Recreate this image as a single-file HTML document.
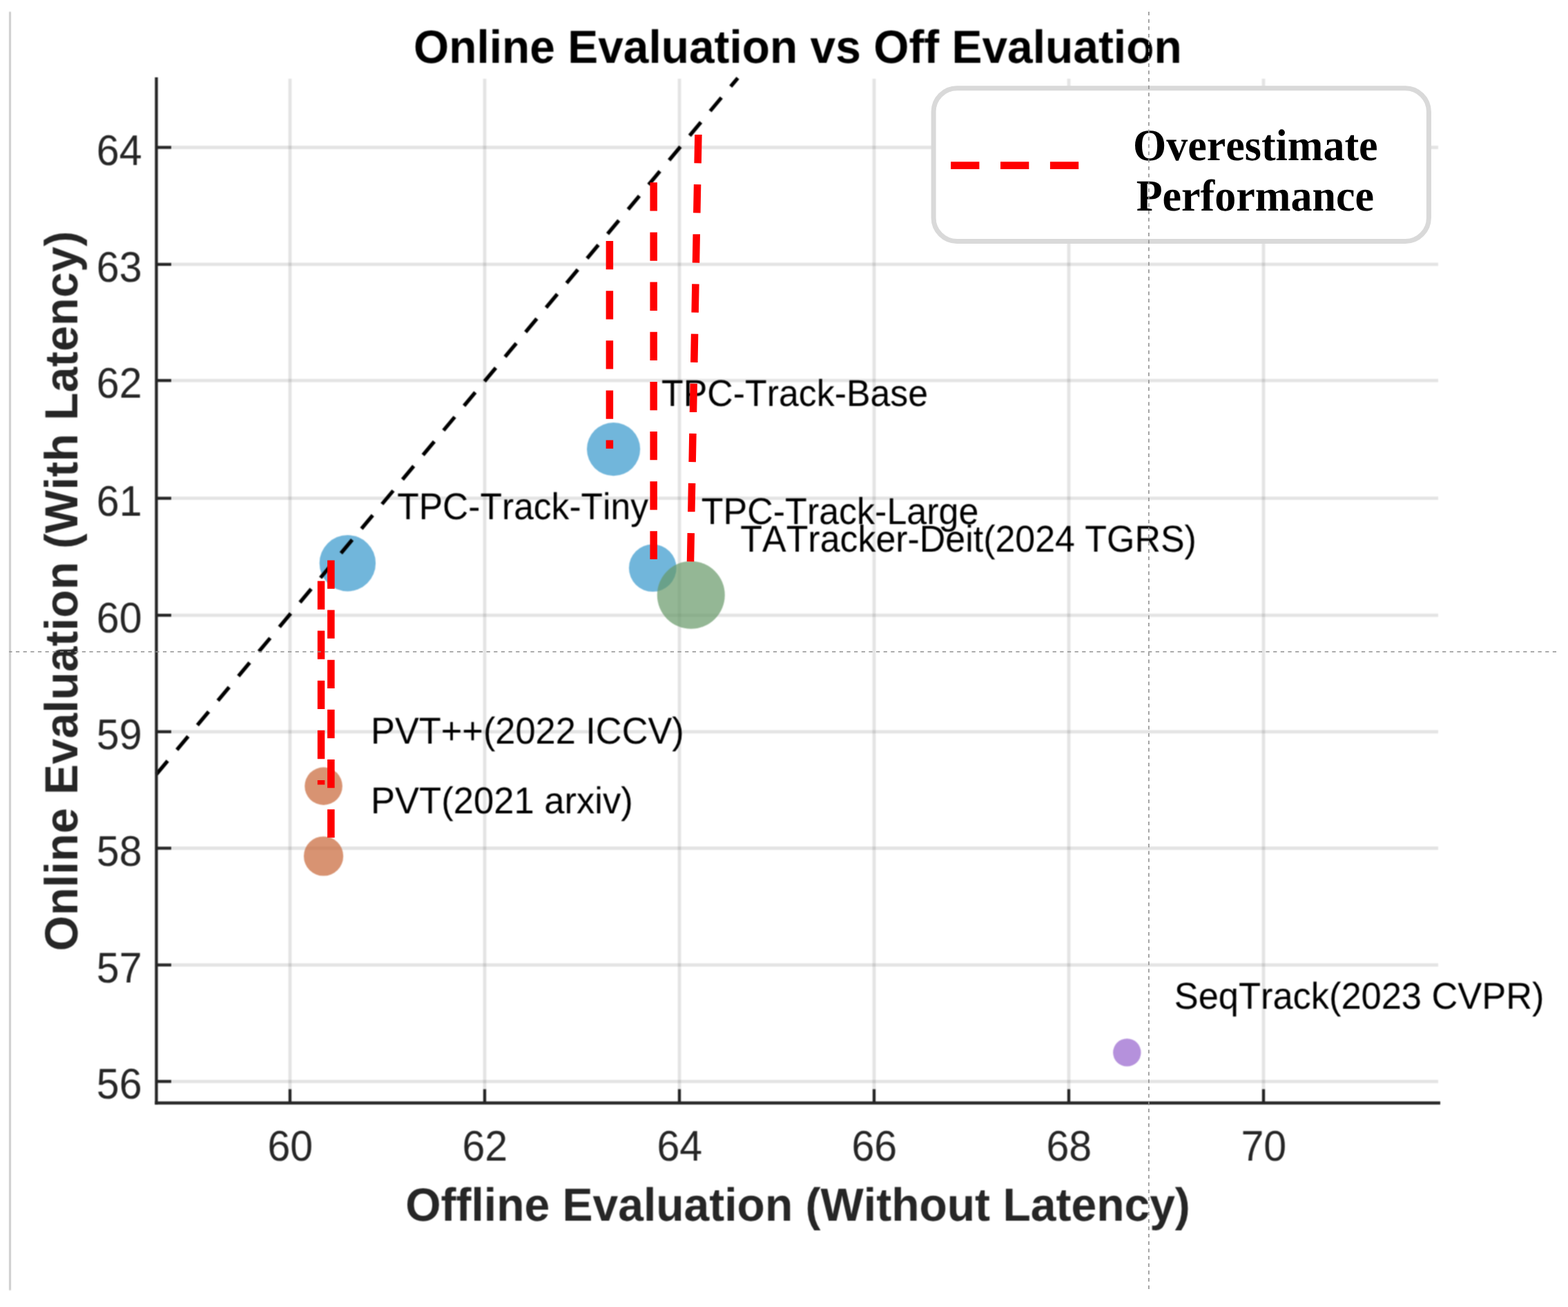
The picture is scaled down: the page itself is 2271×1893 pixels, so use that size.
<!DOCTYPE html>
<html lang="en"><head><meta charset="utf-8"><title>Online Evaluation vs Off Evaluation</title>
<style>
html,body{margin:0;padding:0;background:#fff;}
body{width:2271px;height:1893px;overflow:hidden;}
svg{display:block;}
text{font-kerning:none;font-variant-ligatures:none;text-rendering:geometricPrecision;}
.sans{font-family:"Liberation Sans",sans-serif;}
.serif{font-family:"Liberation Serif",serif;}
.tick{font-size:60px;fill:#262626;}
.lab{font-size:66px;font-weight:bold;fill:#262626;}
.title{font-size:66px;font-weight:bold;fill:#000;}
.ann{font-size:52px;fill:#000;}
.leg{font-size:62px;font-weight:bold;fill:#000;}
</style></head><body>
<svg width="2271" height="1893" viewBox="0 0 2271 1893">
<defs><filter id="soft" x="0" y="0" width="2271" height="1893" filterUnits="userSpaceOnUse" color-interpolation-filters="sRGB"><feConvolveMatrix order="3" kernelMatrix="1 2 1 2 4 2 1 2 1" divisor="16" edgeMode="duplicate" preserveAlpha="false"/></filter></defs>
<rect x="0" y="0" width="2271" height="1893" fill="#ffffff"/>
<g filter="url(#soft)">
<rect x="0" y="0" width="2271" height="1893" fill="#ffffff"/>
<g stroke="#262626" stroke-opacity="0.125" stroke-width="4.8" fill="none">
<line x1="420.0" y1="114.0" x2="420.0" y2="1597.5"/>
<line x1="702.0" y1="114.0" x2="702.0" y2="1597.5"/>
<line x1="984.0" y1="114.0" x2="984.0" y2="1597.5"/>
<line x1="1266.0" y1="114.0" x2="1266.0" y2="1597.5"/>
<line x1="1548.0" y1="114.0" x2="1548.0" y2="1597.5"/>
<line x1="1830.0" y1="114.0" x2="1830.0" y2="1597.5"/>
<line x1="226.5" y1="1566.3" x2="2083.0" y2="1566.3"/>
<line x1="226.5" y1="1397.6" x2="2083.0" y2="1397.6"/>
<line x1="226.5" y1="1228.5" x2="2083.0" y2="1228.5"/>
<line x1="226.5" y1="1059.8" x2="2083.0" y2="1059.8"/>
<line x1="226.5" y1="891.1" x2="2083.0" y2="891.1"/>
<line x1="226.5" y1="721.7" x2="2083.0" y2="721.7"/>
<line x1="226.5" y1="551.1" x2="2083.0" y2="551.1"/>
<line x1="226.5" y1="382.9" x2="2083.0" y2="382.9"/>
<line x1="226.5" y1="213.5" x2="2083.0" y2="213.5"/>
</g>
<g>
<circle cx="503.4" cy="815.7" r="40.7" fill="#3497cc" fill-opacity="0.7"/>
<circle cx="888.6" cy="650.6" r="38.6" fill="#3497cc" fill-opacity="0.7"/>
<circle cx="945.3" cy="822.7" r="34.4" fill="#3497cc" fill-opacity="0.7"/>
<circle cx="1000.8" cy="861.8" r="49.0" fill="#669868" fill-opacity="0.7"/>
<circle cx="468.6" cy="1138.6" r="27.3" fill="#c76536" fill-opacity="0.7"/>
<circle cx="468.6" cy="1240.0" r="28.6" fill="#c76536" fill-opacity="0.7"/>
<circle cx="1632.3" cy="1524.4" r="20.2" fill="#9563cd" fill-opacity="0.7"/>
</g>
<line x1="226.5" y1="1121.5" x2="1068.6" y2="112.9" stroke="#000" stroke-width="5.4" stroke-dasharray="25.4 20.95" fill="none"/>
<g stroke="#262626" stroke-width="4.3" fill="none">
<line x1="226.5" y1="112.0" x2="226.5" y2="1599.65"/>
<line x1="224.35" y1="1597.5" x2="2086" y2="1597.5"/>
<line x1="420.0" y1="1577.5" x2="420.0" y2="1597.5"/>
<line x1="702.0" y1="1577.5" x2="702.0" y2="1597.5"/>
<line x1="984.0" y1="1577.5" x2="984.0" y2="1597.5"/>
<line x1="1266.0" y1="1577.5" x2="1266.0" y2="1597.5"/>
<line x1="1548.0" y1="1577.5" x2="1548.0" y2="1597.5"/>
<line x1="1830.0" y1="1577.5" x2="1830.0" y2="1597.5"/>
<line x1="226.5" y1="1566.3" x2="248.0" y2="1566.3"/>
<line x1="226.5" y1="1397.6" x2="248.0" y2="1397.6"/>
<line x1="226.5" y1="1228.5" x2="248.0" y2="1228.5"/>
<line x1="226.5" y1="1059.8" x2="248.0" y2="1059.8"/>
<line x1="226.5" y1="891.1" x2="248.0" y2="891.1"/>
<line x1="226.5" y1="721.7" x2="248.0" y2="721.7"/>
<line x1="226.5" y1="551.1" x2="248.0" y2="551.1"/>
<line x1="226.5" y1="382.9" x2="248.0" y2="382.9"/>
<line x1="226.5" y1="213.5" x2="248.0" y2="213.5"/>
</g>
<g>
<text class="sans tick" transform="translate(420.30 1680.50) scale(0.985 1.035)" text-anchor="middle">60</text>
<text class="sans tick" transform="translate(702.30 1680.50) scale(0.985 1.035)" text-anchor="middle">62</text>
<text class="sans tick" transform="translate(984.30 1680.50) scale(0.985 1.035)" text-anchor="middle">64</text>
<text class="sans tick" transform="translate(1266.30 1680.50) scale(0.985 1.035)" text-anchor="middle">66</text>
<text class="sans tick" transform="translate(1548.30 1680.50) scale(0.985 1.035)" text-anchor="middle">68</text>
<text class="sans tick" transform="translate(1830.30 1680.50) scale(0.985 1.035)" text-anchor="middle">70</text>
<text class="sans tick" transform="translate(205.60 1591.30) scale(0.985 1.035)" text-anchor="end">56</text>
<text class="sans tick" transform="translate(205.60 1422.60) scale(0.985 1.035)" text-anchor="end">57</text>
<text class="sans tick" transform="translate(205.60 1253.50) scale(0.985 1.035)" text-anchor="end">58</text>
<text class="sans tick" transform="translate(205.60 1084.80) scale(0.985 1.035)" text-anchor="end">59</text>
<text class="sans tick" transform="translate(205.60 916.10) scale(0.985 1.035)" text-anchor="end">60</text>
<text class="sans tick" transform="translate(205.60 746.70) scale(0.985 1.035)" text-anchor="end">61</text>
<text class="sans tick" transform="translate(205.60 576.10) scale(0.985 1.035)" text-anchor="end">62</text>
<text class="sans tick" transform="translate(205.60 407.90) scale(0.985 1.035)" text-anchor="end">63</text>
<text class="sans tick" transform="translate(205.60 238.50) scale(0.985 1.035)" text-anchor="end">64</text>
</g>
<text class="sans title" transform="translate(1155.30 91.00) scale(0.998 1.02)" text-anchor="middle">Online Evaluation vs Off Evaluation</text>
<text class="sans lab" transform="translate(1155.50 1768.00) scale(1.0 1.02)" text-anchor="middle">Offline Evaluation (Without Latency)</text>
<text class="sans lab" transform="translate(112.30 856.00) rotate(-90) scale(1.0 1.02)" text-anchor="middle" style="letter-spacing:0.4px">Online Evaluation (With Latency)</text>
<g>
<text class="sans ann" transform="translate(575.20 751.60) scale(0.9915 1.04)">TPC-Track-Tiny</text>
<text class="sans ann" transform="translate(958.00 588.00) scale(0.9974 1.04)">TPC-Track-Base</text>
<text class="sans ann" transform="translate(1015.80 759.40) scale(1.0 1.04)">TPC-Track-Large</text>
<text class="sans ann" transform="translate(1072.30 798.50) scale(0.9983 1.04)">TATracker-Deit(2024 TGRS)</text>
<text class="sans ann" transform="translate(537.00 1076.90) scale(1.0065 1.04)">PVT++(2022 ICCV)</text>
<text class="sans ann" transform="translate(537.00 1178.00) scale(1.0106 1.04)">PVT(2021 arxiv)</text>
<text class="sans ann" transform="translate(1700.80 1461.20) scale(1.0074 1.04)">SeqTrack(2023 CVPR)</text>
</g>
<line x1="14.5" y1="17" x2="14.5" y2="1868.8" stroke="#b4b4b4" stroke-width="2"/>
</g>
<g stroke="#ff0000" stroke-width="10.5" stroke-dasharray="41.3 30.85" fill="none">
<line x1="882.9" y1="349" x2="882.9" y2="649.7"/>
<line x1="946.7" y1="264.3" x2="946.7" y2="810"/>
<line x1="1011.4" y1="195" x2="1000" y2="814"/>
<line x1="479.4" y1="811.4" x2="479.4" y2="1213.3"/>
<line x1="465.1" y1="841.4" x2="465.1" y2="1136.6"/>
</g>
<rect x="1352.1" y="127.8" width="717.3" height="221.6" rx="34" ry="34" fill="#fff" stroke="#d9d9d9" stroke-width="7"/>
<line x1="1377.1" y1="239.7" x2="1563" y2="239.7" stroke="#ff0000" stroke-width="10.8" stroke-dasharray="41.3 30.6"/>
<text class="serif leg" transform="translate(1818.30 231.50) scale(1.0 1.04)" text-anchor="middle">Overestimate</text>
<text class="serif leg" transform="translate(1817.80 305.20) scale(1.0 1.04)" text-anchor="middle">Performance</text>
<line x1="1663.9" y1="17" x2="1663.9" y2="1867.3" stroke="#909090" stroke-width="1.6" stroke-dasharray="5.26 5.403"/>
<line x1="13.2" y1="944" x2="2256.6" y2="944" stroke="#909090" stroke-width="1.6" stroke-dasharray="5.26 5.39" stroke-dashoffset="0.9"/>
</svg>
</body></html>
